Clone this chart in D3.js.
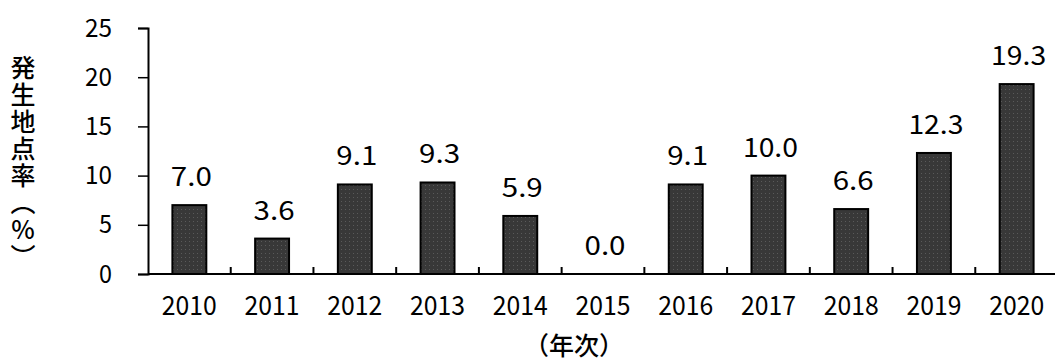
<!DOCTYPE html>
<html>
<head>
<meta charset="utf-8">
<script src="https://cdn.jsdelivr.net/npm/d3@7"></script>
<style>
  body { margin: 0; background: #fff; overflow: hidden; }
  svg { display: block; }
  text { font-family: 'Noto Sans CJK JP', sans-serif; fill: #000; }
</style>
</head>
<body>
<main></main>
<script>
// data
const years = ['2010', '2011', '2012', '2013', '2014', '2015', '2016', '2017', '2018', '2019', '2020']
const rates = [7.0, 3.6, 9.1, 9.3, 5.9, 0.0, 9.1, 10.0, 6.6, 12.3, 19.3]
const yTicks = [0, 5, 10, 15, 20, 25]
const yTitle = '発生地点率（%）'
const xTitle = '（年次）'

const W = 1055
const H = 361
// the original uses narrow half-width digits, squeeze ours to the same width
const CHAR_W = 14
const narrow = sel => sel
  .attr('textLength', function () { return this.textContent.length * CHAR_W - 1 })
  .attr('lengthAdjust', 'spacingAndGlyphs')

const svg = d3.select('main')
  .append('svg')
  .attr('width', W)
  .attr('height', H)

// dotted dark fill like the original bars
const pat = svg.append('defs').append('pattern')
  .attr('id', 'dots')
  .attr('width', 4)
  .attr('height', 4)
  .attr('patternUnits', 'userSpaceOnUse')
pat.append('rect').attr('width', 4).attr('height', 4).attr('fill', '#383838')
pat.append('rect').attr('x', 1).attr('y', 1).attr('width', 1).attr('height', 1).attr('fill', '#5a5a5a')

const xCat = d3.scaleBand().domain(years).range([148, 1058])
const x = d3.scaleBand().domain(years).range([148, 1058]).paddingInner(0.59).paddingOuter(0.295)
const y = d3.scaleLinear().domain([0, 25]).range([274, 28])

// y axis
const gy = svg.append('g')
  .attr('transform', 'translate(148,0)')
  .call(d3.axisLeft(y).tickValues(yTicks).tickSize(10).tickPadding(26))
gy.select('.domain').attr('stroke', '#000').attr('stroke-width', 2)
gy.selectAll('.tick line').attr('stroke-width', 1.5)
gy.selectAll('.tick text').style('font-size', '25px').call(narrow)

// bars
svg.selectAll('.bar')
  .data(rates)
  .enter()
  .append('rect')
  .attr('class', 'bar')
  .attr('x', (d, i) => x(years[i]))
  .attr('y', d => y(d))
  .attr('width', x.bandwidth())
  .attr('height', d => y(0) - y(d))
  .attr('fill', 'url(#dots)')
  .attr('stroke', '#000')
  .attr('stroke-width', 2)

// value labels
svg.selectAll('.val')
  .data(rates)
  .enter()
  .append('text')
  .attr('class', 'val')
  .attr('x', (d, i) => x(years[i]) + x.bandwidth() / 2 + 2)
  .attr('y', d => y(d) - 19)
  .attr('text-anchor', 'middle')
  .style('font-size', '26px')
  .text(d => d3.format('.1f')(d))
  .call(narrow)

// x axis
const gx = svg.append('g')
  .attr('transform', 'translate(0,274)')
  .call(d3.axisBottom(xCat).tickSize(0).tickPadding(22))
gx.select('.domain').remove()
gx.selectAll('.tick text').style('font-size', '27px').call(narrow)
gx.append('line')
  .attr('x1', 148).attr('x2', W)
  .attr('stroke', '#000').attr('stroke-width', 2)
gx.selectAll('.sep')
  .data(years.slice(1))
  .enter()
  .append('line')
  .attr('class', 'sep')
  .attr('x1', d => xCat(d)).attr('x2', d => xCat(d))
  .attr('y1', 0).attr('y2', -7)
  .attr('stroke', '#000').attr('stroke-width', 2)

// titles
svg.append('text')
  .attr('x', 23)
  .attr('y', 163)
  .attr('text-anchor', 'middle')
  .style('writing-mode', 'vertical-rl')
  .style('text-orientation', 'upright')
  .style('font-size', '25px')
  .style('font-weight', 500)
  .style('letter-spacing', '2px')
  .text(yTitle)

svg.append('text')
  .attr('x', 574)
  .attr('y', 355)
  .attr('text-anchor', 'middle')
  .style('font-size', '25px')
  .style('font-weight', 500)
  .text(xTitle)
</script>
</body>
</html>
